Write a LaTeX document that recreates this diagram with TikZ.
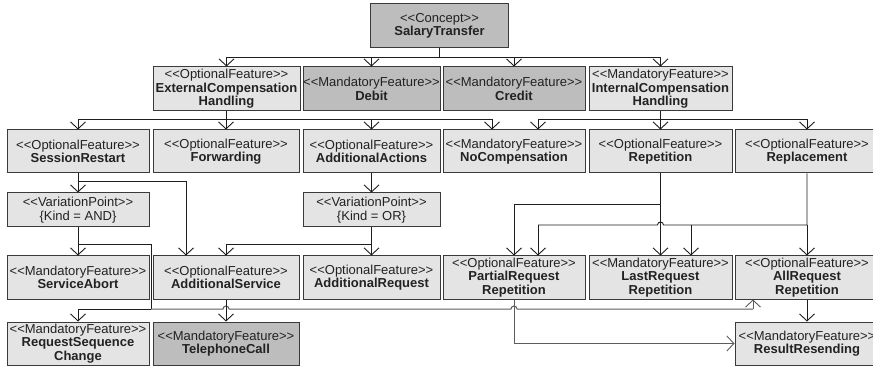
\documentclass[tikz,border=0pt]{standalone}
\usepackage{fontspec}
\setmainfont{Liberation Sans}
\usetikzlibrary{arrows.meta}

\definecolor{boxlight}{HTML}{E4E4E4}
\definecolor{boxdark}{HTML}{BDBDBD}
\definecolor{boxedge}{HTML}{3A3A3A}
\definecolor{wireblack}{HTML}{1E1E1E}
\definecolor{wiregrey}{HTML}{5C5C5C}
\definecolor{labeltext}{HTML}{222222}

% stereotype label, kept as plain angle brackets
\newcommand\stereo[1]{<\kern0pt<#1>\kern0pt>}

\tikzset{
  feat/.style={draw=boxedge, line width=1pt, minimum height=43pt, inner sep=0pt,
    align=center, text=labeltext, font=\fontsize{13}{13.5}\selectfont},
  light/.style={feat, fill=boxlight},
  dark/.style={feat, fill=boxdark},
  wire/.style={draw=wireblack, line width=0.9pt},
  arr/.style={wire, -{Straight Barb[length=7pt,width=15pt,line width=0.9pt]}},
}

\begin{document}
\begin{tikzpicture}[x=1pt, y=-1pt]
\useasboundingbox (0,0) rectangle (873,366);
\fill[white] (0,0) rectangle (873,366);
\clip (0,0) rectangle (873,366);

% ---- concept
\node[dark, minimum width=138pt, minimum height=44pt] (ST) at (439.5,26) {\stereo{Concept}\\\textbf{SalaryTransfer}};

% ---- first level
\node[light, minimum width=147pt, minimum height=44pt] (ECH) at (226.5,89) {\stereo{OptionalFeature}\\\textbf{ExternalCompensation}\\\textbf{Handling}};
\node[dark, minimum width=137pt, minimum height=44pt] (Debit) at (371.5,89) {\stereo{MandatoryFeature}\\\textbf{Debit}};
\node[dark, minimum width=142pt, minimum height=44pt] (Credit) at (514,89) {\stereo{MandatoryFeature}\\\textbf{Credit}};
\node[light, minimum width=143pt, minimum height=44pt] (ICH) at (660.5,89) {\stereo{MandatoryFeature}\\\textbf{InternalCompensation}\\\textbf{Handling}};

% ---- second level
\node[light, minimum width=142pt] (SR) at (78,151.5) {\stereo{OptionalFeature}\\\textbf{SessionRestart}};
\node[light, minimum width=146pt] (Fwd) at (226,151.5) {\stereo{OptionalFeature}\\\textbf{Forwarding}};
\node[light, minimum width=137pt] (AA) at (371.5,151.5) {\stereo{OptionalFeature}\\\textbf{AdditionalActions}};
\node[light, minimum width=142pt] (NoC) at (514,151.5) {\stereo{MandatoryFeature}\\\textbf{NoCompensation}};
\node[light, minimum width=143pt] (Rep) at (660.5,151.5) {\stereo{OptionalFeature}\\\textbf{Repetition}};
\node[light, minimum width=144pt] (Repl) at (807,151.5) {\stereo{OptionalFeature}\\\textbf{Replacement}};

% ---- variation points
\node[light, minimum width=142pt, minimum height=34pt] (VPAND) at (78,210) {\stereo{VariationPoint}\\\{Kind = AND\}};
\node[light, minimum width=137pt, minimum height=34pt] (VPOR) at (371.5,210) {\stereo{VariationPoint}\\\{Kind = OR\}};

% ---- third level
\node[light, minimum width=142pt] (SAb) at (78,277.5) {\stereo{MandatoryFeature}\\\textbf{ServiceAbort}};
\node[light, minimum width=146pt] (AS) at (226,277.5) {\stereo{OptionalFeature}\\\textbf{AdditionalService}};
\node[light, minimum width=137pt] (AR) at (371.5,277.5) {\stereo{OptionalFeature}\\\textbf{AdditionalRequest}};
\node[light, minimum width=142pt] (PRR) at (514,277.5) {\stereo{OptionalFeature}\\\textbf{PartialRequest}\\\textbf{Repetition}};
\node[light, minimum width=143pt] (LRR) at (660.5,277.5) {\stereo{MandatoryFeature}\\\textbf{LastRequest}\\\textbf{Repetition}};
\node[light, minimum width=144pt] (ARR) at (807,277.5) {\stereo{OptionalFeature}\\\textbf{AllRequest}\\\textbf{Repetition}};

% ---- fourth level
\node[light, minimum width=142pt] (RSC) at (78,343.5) {\stereo{MandatoryFeature}\\\textbf{RequestSequence}\\\textbf{Change}};
\node[dark, minimum width=146pt] (TC) at (226,343.5) {\stereo{MandatoryFeature}\\\textbf{TelephoneCall}};
\node[light, minimum width=144pt] (RR) at (807,343.5) {\stereo{MandatoryFeature}\\\textbf{ResultResending}};

% ---- junction points
\coordinate (jST) at (439.5,57);
\coordinate (jECH) at (226.5,119);
\coordinate (jICH) at (660.5,119);
\coordinate (jSR) at (78,181);
\coordinate (jAND) at (78,244);
\coordinate (kAND) at (151,244);
\coordinate (mAND) at (151,309);
\coordinate (nAND) at (753,309);
\coordinate (jOR) at (371.5,244);
\coordinate (jRep) at (660.5,204);
\coordinate (jRepl) at (807,225);
\coordinate (pNoCl) at ([xshift=-22pt]NoC.north);
\coordinate (pNoCr) at ([xshift=24pt]NoC.north);
\coordinate (pAS) at ([xshift=-40pt]AS.north);
\coordinate (pPRR) at ([xshift=24pt]PRR.north);
\coordinate (pLRR) at ([xshift=30.5pt]LRR.north);
\coordinate (pARR) at ([xshift=-54pt]ARR.south);

% ---- SalaryTransfer
\draw[wire] (ST.south) -- (jST);
\foreach \n in {ECH,Debit,Credit,ICH} \draw[arr] (jST) -| (\n.north);

% ---- ExternalCompensationHandling
\draw[wire] (ECH.south) -- (jECH);
\foreach \n in {SR,Fwd,AA} \draw[arr] (jECH) -| (\n.north);
\draw[arr] (jECH) -| (pNoCl);

% ---- InternalCompensationHandling
\draw[wire] (ICH.south) -- (jICH);
\draw[arr] (jICH) -| (pNoCr);
\draw[arr] (jICH) -- (Rep.north);
\draw[arr] (jICH) -| (Repl.north);

% ---- SessionRestart
\draw[arr] (SR.south) -- (VPAND.north);
\draw[arr] (jSR) -| (pAS);

% ---- AdditionalActions
\draw[arr] (AA.south) -- (VPOR.north);

% ---- variation point AND
\draw[wire] (VPAND.south) -- (jAND);
\draw[arr] (jAND) -- (SAb.north);
\draw[wire] (jAND) -- (kAND) -- (mAND);
\draw[arr] (mAND) -| (RSC.north);
\draw[wiregrey, line width=1pt] (mAND) -- (223,309) arc[start angle=180, end angle=360, radius=3]
  -- (511,309) arc[start angle=180, end angle=360, radius=3] -- (nAND);
\draw[arr, draw=wiregrey, line width=1pt] (nAND) -- (pARR);

% ---- variation point OR
\draw[wire] (VPOR.south) -- (jOR);
\draw[arr] (jOR) -- (AR.north);
\draw[arr] (jOR) -| (AS.north);

% ---- AdditionalService
\draw[arr] (AS.south) -- (TC.north);

% ---- Repetition
\draw[arr] (Rep.south) -- (LRR.north);
\draw[arr] (jRep) -| (PRR.north);

% ---- Replacement
\draw[wire] (Repl.south) -- (jRepl) -- (663.5,225) arc[start angle=360, end angle=180, radius=3] -- (pPRR |- jRepl);
\draw[arr] (pPRR |- jRepl) -- (pPRR);
\draw[arr] (pLRR |- jRepl) -- (pLRR);
\draw[arr] (jRepl) -- (ARR.north);

% ---- result resending
\draw[arr, draw=wiregrey, line width=1pt] (PRR.south) |- (RR.west);
\draw[arr] (ARR.south) -- (RR.north);
\end{tikzpicture}
\end{document}
